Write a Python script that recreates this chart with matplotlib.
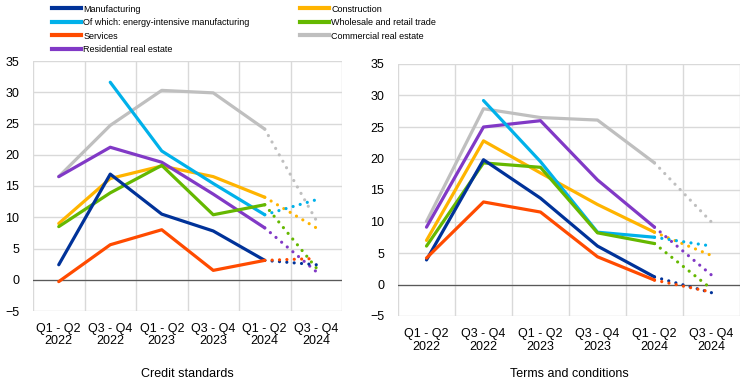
import matplotlib
matplotlib.use("Agg")
import matplotlib.pyplot as plt
from matplotlib.lines import Line2D
import numpy as np

plt.rcParams['font.family'] = ['Liberation Sans', 'DejaVu Sans']

periods = ["Q1 - Q2\n2022", "Q3 - Q4\n2022", "Q1 - Q2\n2023", "Q3 - Q4\n2023", "Q1 - Q2\n2024", "Q3 - Q4\n2024"]

series_names = ["Manufacturing", "Of which: energy-intensive manufacturing", "Services",
                "Residential real estate", "Construction", "Wholesale and retail trade",
                "Commercial real estate"]
colors = {"Manufacturing": "#003299",
          "Of which: energy-intensive manufacturing": "#00B1EA",
          "Services": "#FF4B00",
          "Residential real estate": "#8139C6",
          "Construction": "#FFB400",
          "Wholesale and retail trade": "#65B800",
          "Commercial real estate": "#BFBFBF"}

# Credit standards (last value = expectation, dotted)
cs_manufacturing = [2.4, 16.9, 10.5, 7.8, 3.1, 2.4]
cs_energy = [np.nan, 31.6, 20.6, 15.4, 10.4, 12.8]
cs_services = [-0.3, 5.6, 8.0, 1.5, 3.1, 3.4]
cs_residential = [16.5, 21.2, 18.8, 13.7, 8.3, 1.3]
cs_construction = [9.0, 16.2, 18.2, 16.5, 13.2, 8.3]
cs_wholesale = [8.5, 13.9, 18.3, 10.4, 12.0, 1.9]
cs_commercial = [16.5, 24.7, 30.3, 29.9, 24.1, 9.5]

# Terms and conditions
tc_manufacturing = [3.9, 19.8, 13.7, 6.1, 1.2, -1.3]
tc_energy = [np.nan, 29.2, 19.5, 8.3, 7.5, 6.1]
tc_services = [4.2, 13.1, 11.5, 4.4, 0.7, -1.2]
tc_residential = [9.1, 25.0, 26.0, 16.6, 9.1, 1.5]
tc_construction = [7.0, 22.8, 17.7, 12.7, 8.3, 4.6]
tc_wholesale = [6.1, 19.3, 18.6, 8.2, 6.5, -0.7]
tc_commercial = [10.0, 27.9, 26.5, 26.1, 19.3, 9.9]

cs = {"Manufacturing": cs_manufacturing,
      "Of which: energy-intensive manufacturing": cs_energy,
      "Services": cs_services, "Residential real estate": cs_residential,
      "Construction": cs_construction, "Wholesale and retail trade": cs_wholesale,
      "Commercial real estate": cs_commercial}
tc = {"Manufacturing": tc_manufacturing,
      "Of which: energy-intensive manufacturing": tc_energy,
      "Services": tc_services, "Residential real estate": tc_residential,
      "Construction": tc_construction, "Wholesale and retail trade": tc_wholesale,
      "Commercial real estate": tc_commercial}

draw_order = ["Commercial real estate", "Construction", "Residential real estate",
              "Of which: energy-intensive manufacturing", "Wholesale and retail trade",
              "Manufacturing", "Services"]

fig = plt.figure(figsize=(7.44, 3.85), dpi=100)
W, H = 744, 385

def make_ax(l, r, t, b):
    return fig.add_axes([l / W, 1 - b / H, (r - l) / W, (b - t) / H])

ax1 = make_ax(33, 342, 61, 311)
ax2 = make_ax(398, 740, 64, 316)

x = np.arange(len(periods))

def draw(ax, data, xlabel, pad, linesp, labelpad):
    for name in draw_order:
        y = np.array(data[name], dtype=float)
        c = colors[name]
        ax.plot(x[:5], y[:5], color=c, lw=2.3, solid_capstyle='round', zorder=3)
        ax.plot(x[4:6], y[4:6], color=c, lw=2.3, linestyle=(0, (0.01, 2.3)),
                dash_capstyle='round', zorder=3)
    ax.set_xlim(-0.5, 5.5)
    ax.set_ylim(-5, 35)
    ax.set_yticks(np.arange(-5, 36, 5))
    ax.set_xticks(np.arange(-0.5, 6, 1), minor=False)
    ax.set_xticklabels([])
    ax.set_xticks(x, minor=True)
    ax.set_xticklabels(periods, minor=True, fontsize=9, linespacing=linesp)
    ax.tick_params(axis='x', which='both', length=0)
    ax.tick_params(axis='x', which='minor', pad=pad)
    ax.tick_params(axis='y', length=0, pad=10, labelsize=9)
    ax.grid(True, which='major', color='#D9D9D9', lw=1.0, zorder=0)
    ax.axhline(0, color='#595959', lw=0.9, zorder=2)
    for s in ax.spines.values():
        s.set_visible(False)
    ax.set_xlabel(xlabel, fontsize=9, labelpad=labelpad)

draw(ax1, cs, "Credit standards", 8.6, 1.0, 15.5)
draw(ax2, tc, "Terms and conditions", 9.0, 1.1, 10.5)

leg_font = dict(family=['Liberation Sans'], size=6.5)

def legend_block(names, xpx):
    handles = [Line2D([0], [0], color=colors[n], lw=3) for n in names]
    leg = fig.legend(handles, names, loc='upper left',
                     bbox_to_anchor=(xpx / W, 1 - 4.5 / H), frameon=False,
                     prop=leg_font, handlelength=3.25, handletextpad=0.2,
                     labelspacing=0.5, borderpad=0, borderaxespad=0)
    return leg

legend_block(series_names[:4], 52)
legend_block(series_names[4:], 300)

fig.savefig("out.png", dpi=100)
